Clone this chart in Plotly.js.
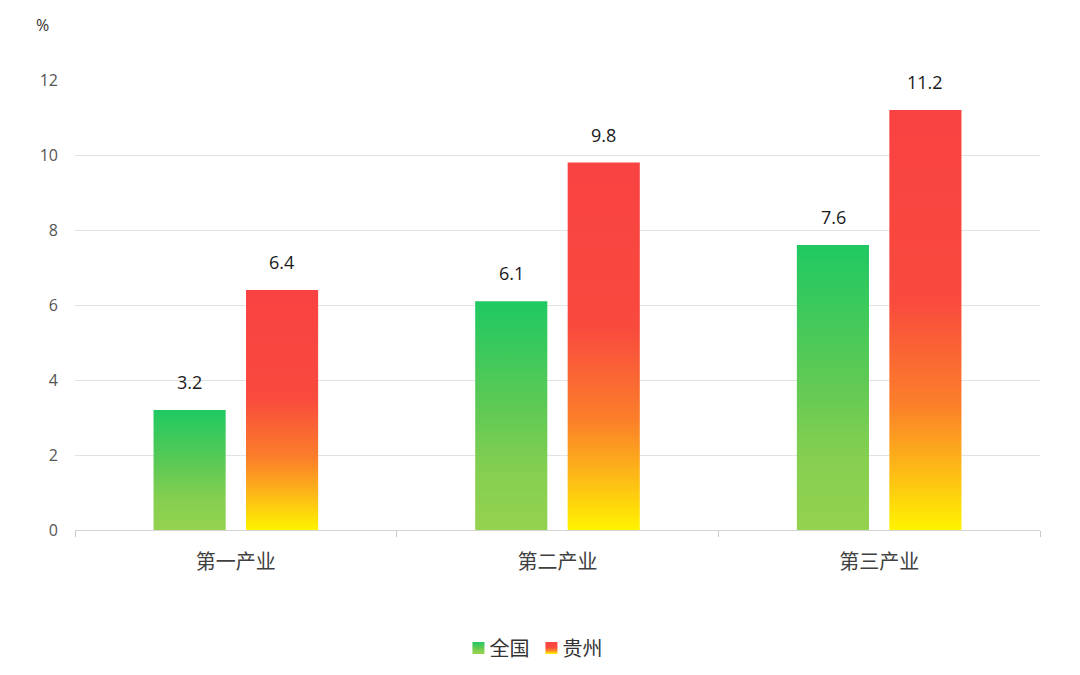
<!DOCTYPE html>
<html>
<head>
<meta charset="utf-8">
<script src="https://cdn.plot.ly/plotly-3.0.1.min.js"></script>
<style>html,body{margin:0;padding:0;background:#fff;}#chart{width:1080px;height:675px;}</style>
</head>
<body>
<div id="chart"></div>
<script>
const categories = ['第一产业', '第二产业', '第三产业'];
const seriesNames = ['全国', '贵州'];
const nationalValues = [3.2, 6.1, 7.6];
const guizhouValues = [6.4, 9.8, 11.2];
const yTickValues = [0, 2, 4, 6, 8, 10, 12];
const unitLabel = '%';

const numFont = 'Open Sans, Liberation Sans, sans-serif';
const cjkFont = 'Noto Sans CJK SC, sans-serif';

const traces = [
  {type: 'bar', name: seriesNames[0], x: categories, y: nationalValues,
   marker: {color: '#3fc45a', line: {width: 0}}, hoverinfo: 'none'},
  {type: 'bar', name: seriesNames[1], x: categories, y: guizhouValues,
   marker: {color: '#f94242', line: {width: 0}}, hoverinfo: 'none'}
];

const annotations = [];
const seriesVals = [nationalValues, guizhouValues];
const shifts = [-46, 46];
seriesVals.forEach((vals, s) => {
  vals.forEach((v, i) => {
    annotations.push({x: categories[i], y: v, xref: 'x', yref: 'y', text: v.toFixed(1),
      showarrow: false, yanchor: 'bottom', xshift: shifts[s], yshift: 14,
      font: {family: numFont, size: 18, color: '#1a1a1a'}});
  });
});
annotations.push({x: -0.034, y: 1.122, xref: 'paper', yref: 'paper', text: unitLabel,
  showarrow: false, xanchor: 'center', yanchor: 'middle',
  font: {family: numFont, size: 16, color: '#333'}});

const layout = {
  width: 1080, height: 675,
  margin: {l: 75, r: 40, t: 80, b: 145, autoexpand: false},
  paper_bgcolor: '#ffffff', plot_bgcolor: '#ffffff',
  barmode: 'group', bargap: 0.425, bargroupgap: 0.22,
  showlegend: true,
  legend: {orientation: 'h', x: 0.473, xanchor: 'center', y: -0.262, yanchor: 'middle',
    font: {family: cjkFont, size: 20, color: '#333'}, itemwidth: 30, tracegroupgap: 0,
    entrywidth: 28, entrywidthmode: 'pixels'},
  xaxis: {type: 'category', showgrid: false, showline: true, linecolor: '#d4d4d4', linewidth: 1,
    ticks: 'outside', tickson: 'boundaries', ticklen: 6, tickcolor: '#c8c8c8',
    tickfont: {family: cjkFont, size: 20, color: '#404040'}, ticklabelstandoff: 14,
    fixedrange: true},
  yaxis: {range: [0, 12], tickvals: yTickValues, showgrid: true, gridcolor: '#e3e3e3', gridwidth: 1,
    zeroline: false, showline: false, ticks: '', ticklabelstandoff: 16,
    tickfont: {family: numFont, size: 16, color: '#555'}, fixedrange: true},
  annotations: annotations
};

Plotly.newPlot('chart', traces, layout, {staticPlot: true, displayModeBar: false}).then(gd => {
  const svg = gd.querySelector('svg.main-svg');
  const ns = 'http://www.w3.org/2000/svg';
  let defs = svg.querySelector('defs');
  if (!defs) { defs = document.createElementNS(ns, 'defs'); svg.insertBefore(defs, svg.firstChild); }
  function grad(id, stops) {
    const g = document.createElementNS(ns, 'linearGradient');
    g.setAttribute('id', id);
    g.setAttribute('x1', '0'); g.setAttribute('y1', '0');
    g.setAttribute('x2', '0'); g.setAttribute('y2', '1');
    stops.forEach(([o, c]) => {
      const s = document.createElementNS(ns, 'stop');
      s.setAttribute('offset', o); s.setAttribute('stop-color', c);
      g.appendChild(s);
    });
    defs.appendChild(g);
  }
  grad('gradGreen', [[0, '#1fc962'], [0.45, '#5cc955'], [0.75, '#86cf50'], [1, '#94d24f']]);
  grad('gradRed', [[0, '#f94242'], [0.45, '#f94a3e'], [0.7, '#fb7f2a'], [0.86, '#fdbb16'], [1, '#fff300']]);
  const ids = ['gradGreen', 'gradRed'];
  gd.querySelectorAll('.barlayer .trace').forEach((t, i) => {
    t.querySelectorAll('path').forEach(p => { p.style.fill = 'url(#' + ids[i] + ')'; });
  });
  gd.querySelectorAll('.legend .traces').forEach((t, i) => {
    t.querySelectorAll('.legendpoints path').forEach(p => { p.style.fill = 'url(#' + ids[i] + ')'; p.style.stroke = 'none'; });
    const txt = t.querySelector('text.legendtext');
    if (txt) { txt.setAttribute('x', String(parseFloat(txt.getAttribute('x')) - 9)); }
  });
});
</script>
</body>
</html>
